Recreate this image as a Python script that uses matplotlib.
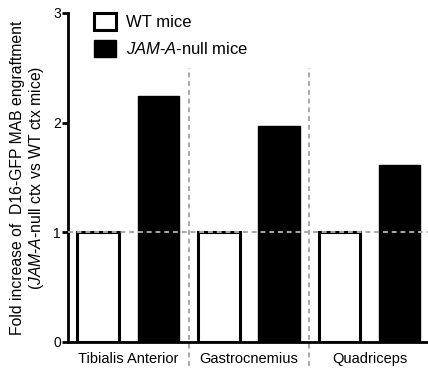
import matplotlib
matplotlib.use('Agg')
import matplotlib.pyplot as plt
from matplotlib.patches import Patch

plt.rcParams['font.family'] = 'Liberation Sans'
plt.rcParams['mathtext.fontset'] = 'custom'
plt.rcParams['mathtext.rm'] = 'Liberation Sans'
plt.rcParams['mathtext.it'] = 'Liberation Sans:italic'

# data
muscles = ['Tibialis Anterior', 'Gastrocnemius', 'Quadriceps']
wt_fold = [1.0, 1.0, 1.0]
jam_fold = [2.24, 1.97, 1.61]
series_names = ['WT mice', r'$\it{JAM}$-$\it{A}$-null mice']
dividers = [1.5, 3.5]

fig = plt.figure(figsize=(4.28, 3.68), dpi=100)
ax = fig.add_axes([0.159, 0.0707, 0.841, 0.894])

wt_x = [2 * i for i in range(len(muscles))]
jam_x = [2 * i + 1 for i in range(len(muscles))]
ax.bar(wt_x, wt_fold, width=0.69, color='white', edgecolor='black', linewidth=2.2, zorder=2)
ax.bar(jam_x, jam_fold, width=0.69, color='black', edgecolor='black', linewidth=1, zorder=2)

# reference line and group dividers
ax.axhline(1, color='#a8a8a8', linestyle=(0, (2.5, 2)), linewidth=1.4, zorder=3)
for d in dividers:
    ax.plot([d, d], [-0.22, 2.5], color='#a8a8a8', linestyle=(0, (2.5, 2)),
            linewidth=1.4, clip_on=False, zorder=1)

ax.set_xlim(-0.5, 5.47)
ax.set_ylim(0, 3)
ax.set_yticks([0, 1, 2, 3])
ax.set_xticks([0.5, 2.5, 4.5])
ax.set_xticklabels(muscles, fontsize=10.5)
ax.tick_params(axis='x', length=0, pad=7)
ax.tick_params(axis='y', length=4, width=2, labelsize=10, pad=1)
for s in ['top', 'right']:
    ax.spines[s].set_visible(False)
ax.spines['left'].set_linewidth(2)
ax.spines['bottom'].set_linewidth(2)

ax.set_ylabel('Fold increase of  D16-GFP MAB engraftment\n'
              r'($\it{JAM}$-$\it{A}$-null ctx vs WT ctx mice)',
              fontsize=11.3, labelpad=5, linespacing=1.15)

handles = [Patch(facecolor='white', edgecolor='black', linewidth=2.2),
           Patch(facecolor='black', edgecolor='black')]
ax.legend(handles, series_names, loc='upper left', bbox_to_anchor=(0.035, 1.04),
          frameon=False, fontsize=12, handlelength=1.3, handleheight=1.2,
          handletextpad=0.6, labelspacing=0.6, borderpad=0.3)

fig.savefig('out.png', dpi=100)
